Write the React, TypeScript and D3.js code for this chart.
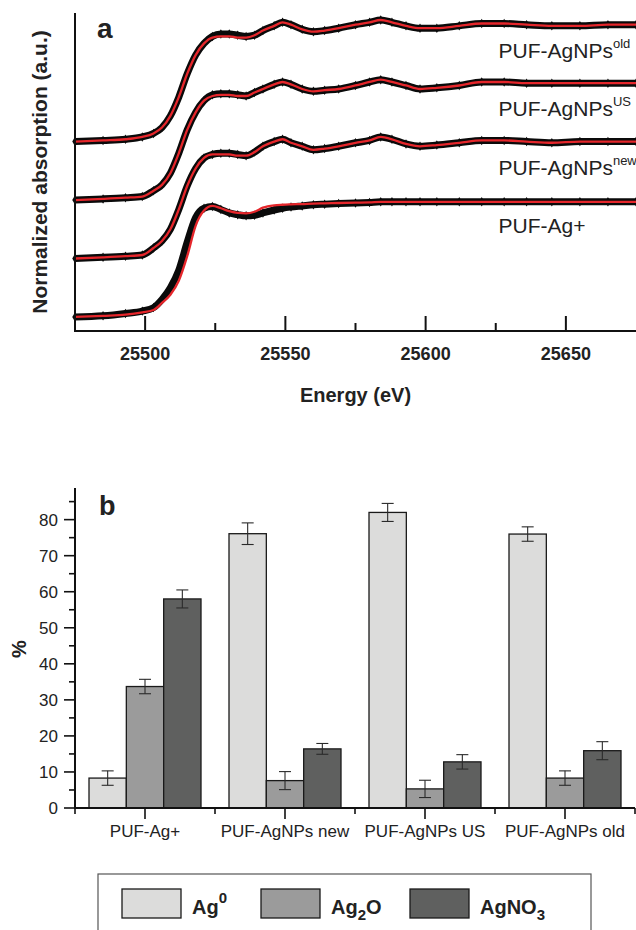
import React, { useEffect, useRef } from 'react';
import * as d3 from 'd3';

const W = 636;
const H = 930;
const FONT = '"Liberation Sans", Arial, Helvetica, sans-serif';

// ---- panel a: normalized XANES spectra (eV vs mu) ----
const energy = [
  25475, 25485, 25493, 25499, 25503, 25506, 25509, 25512, 25515, 25518,
  25521, 25524, 25527, 25530, 25533, 25536, 25539, 25542, 25546, 25549,
  25552, 25556, 25560, 25564, 25569, 25575, 25580, 25584, 25588, 25593,
  25598, 25604, 25612, 25620, 25628, 25636, 25645, 25655, 25665, 25675,
];

const agPlusData = [
  0.0, 0.01, 0.03, 0.05, 0.08, 0.15, 0.25, 0.4, 0.64, 0.85,
  0.93, 0.945, 0.92, 0.89, 0.875, 0.865, 0.87, 0.89, 0.915, 0.93,
  0.94, 0.95, 0.96, 0.965, 0.97, 0.975, 0.98, 0.985, 0.985, 0.985,
  0.985, 0.985, 0.985, 0.985, 0.985, 0.985, 0.985, 0.985, 0.985, 0.985,
];
const agPlusFit = [
  0.0, 0.01, 0.02, 0.04, 0.06, 0.12, 0.19, 0.31, 0.52, 0.78,
  0.91, 0.95, 0.93, 0.905, 0.89, 0.886, 0.9, 0.935, 0.955, 0.96,
  0.963, 0.966, 0.97, 0.972, 0.975, 0.978, 0.98, 0.985, 0.985, 0.985,
  0.985, 0.985, 0.985, 0.985, 0.985, 0.985, 0.985, 0.985, 0.985, 0.985,
];
const newData = [
  0.0, 0.01, 0.02, 0.03, 0.09, 0.15, 0.25, 0.42, 0.62, 0.77,
  0.86, 0.89, 0.9, 0.9, 0.89, 0.88, 0.91, 0.96, 1.0, 1.02,
  0.99, 0.96, 0.93, 0.94, 0.96, 0.99, 1.01, 1.04, 1.02, 0.98,
  0.96, 0.97, 0.99, 1.01, 1.01, 1.0, 0.99, 1.0, 1.0, 1.0,
];
const newFit = [
  0.0, 0.01, 0.02, 0.03, 0.09, 0.15, 0.25, 0.42, 0.62, 0.77,
  0.86, 0.89, 0.89, 0.89, 0.88, 0.88, 0.91, 0.96, 1.0, 1.02,
  0.99, 0.96, 0.93, 0.94, 0.96, 0.99, 1.01, 1.04, 1.02, 0.98,
  0.96, 0.97, 0.99, 1.01, 1.01, 1.0, 0.99, 1.0, 1.0, 1.0,
];
const usData = [
  0.0, 0.01, 0.02, 0.03, 0.08, 0.13, 0.23, 0.4, 0.6, 0.75,
  0.85, 0.9, 0.91, 0.91, 0.9, 0.89, 0.92, 0.95, 0.99, 1.01,
  0.99, 0.95, 0.93, 0.94, 0.95, 0.98, 1.01, 1.03, 1.01, 0.98,
  0.95, 0.96, 0.98, 1.01, 1.01, 1.0, 1.0, 1.0, 1.0, 1.0,
];
const usFit = [
  0.0, 0.01, 0.02, 0.03, 0.08, 0.13, 0.23, 0.4, 0.6, 0.75,
  0.85, 0.89, 0.9, 0.9, 0.89, 0.89, 0.92, 0.95, 0.99, 1.01,
  0.99, 0.95, 0.93, 0.94, 0.95, 0.98, 1.01, 1.03, 1.01, 0.98,
  0.95, 0.96, 0.98, 1.01, 1.01, 1.0, 1.0, 1.0, 1.0, 1.0,
];
const oldData = [
  0.0, 0.01, 0.02, 0.04, 0.07, 0.12, 0.22, 0.38, 0.58, 0.74,
  0.84, 0.9, 0.92, 0.92, 0.91, 0.9, 0.91, 0.95, 0.99, 1.02,
  1.0, 0.96, 0.94, 0.95, 0.97, 1.0, 1.02, 1.04, 1.02, 0.99,
  0.97, 0.97, 0.99, 1.01, 1.01, 1.0, 0.99, 0.99, 1.0, 1.0,
];
const oldFit = [
  0.0, 0.01, 0.02, 0.04, 0.07, 0.12, 0.22, 0.38, 0.58, 0.74,
  0.84, 0.89, 0.9, 0.9, 0.89, 0.89, 0.91, 0.95, 0.99, 1.02,
  1.0, 0.96, 0.94, 0.95, 0.97, 1.0, 1.02, 1.04, 1.02, 0.99,
  0.97, 0.97, 0.99, 1.01, 1.01, 1.0, 0.99, 0.99, 1.0, 1.0,
];

const spectraNames = ['PUF-Ag+', 'PUF-AgNPs', 'PUF-AgNPs', 'PUF-AgNPs'];
const spectraSups = ['', 'new', 'US', 'old'];
const spectraOffsets = [0, 0.5, 1.0, 1.5];
const spectraData = [agPlusData, newData, usData, oldData];
const spectraFit = [agPlusFit, newFit, usFit, oldFit];
const energyTicks = [25500, 25550, 25600, 25650];

// ---- panel b: speciation (%) ----
const categories = ['PUF-Ag+', 'PUF-AgNPs new', 'PUF-AgNPs US', 'PUF-AgNPs old'];
const species = ['Ag0', 'Ag2O', 'AgNO3'];
const ag0 = [8.3, 76.1, 82.0, 76.0];
const ag0Err = [2.0, 3.0, 2.5, 2.0];
const ag2o = [33.7, 7.6, 5.3, 8.3];
const ag2oErr = [2.0, 2.5, 2.4, 2.0];
const agno3 = [58.0, 16.4, 12.8, 15.9];
const agno3Err = [2.5, 1.5, 2.0, 2.5];
const percentTicks = [0, 10, 20, 30, 40, 50, 60, 70, 80];

const barColors = ['#dcdcdb', '#9b9b9b', '#5f605f'];

const App: React.FC = () => {
  const svgRef = useRef<SVGSVGElement>(null);

  useEffect(() => {
    if (!svgRef.current) return;
    const svg = d3.select(svgRef.current);
    svg.selectAll('*').remove();

    // ================= panel a =================
    const xA = d3.scaleLinear().domain([25475, 25675]).range([75, 636]);
    const yA = d3.scaleLinear().domain([-0.12, 2.6]).range([331, 13]);
    const ga = svg.append('g');

    const line = d3
      .line<[number, number]>()
      .x((d) => xA(d[0]))
      .y((d) => yA(d[1]))
      .curve(d3.curveMonotoneX);

    // measured points: thick black band of dense diamonds
    spectraData.forEach((vals, i) => {
      const off = spectraOffsets[i];
      const pts: [number, number][] = energy.map((e, j) => [e, vals[j] + off]);
      ga.append('path')
        .attr('d', line(pts))
        .attr('fill', 'none')
        .attr('stroke', '#0a0a0a')
        .attr('stroke-width', 7)
        .attr('stroke-linejoin', 'round');
      ga.selectAll(null)
        .data(pts)
        .enter()
        .append('path')
        .attr('d', d3.symbol(d3.symbolDiamond, 26)())
        .attr('transform', (d) => `translate(${xA(d[0])},${yA(d[1])})`)
        .attr('fill', '#0a0a0a');
    });

    // fits in red
    spectraFit.forEach((vals, i) => {
      const off = spectraOffsets[i];
      const pts: [number, number][] = energy.map((e, j) => [e, vals[j] + off]);
      ga.append('path')
        .attr('d', line(pts))
        .attr('fill', 'none')
        .attr('stroke', '#e5262b')
        .attr('stroke-width', 2.3);
    });

    // axes
    ga.append('line')
      .attr('x1', 75).attr('x2', 75)
      .attr('y1', yA.range()[1]).attr('y2', yA.range()[0] + 1)
      .attr('stroke', '#111').attr('stroke-width', 2);
    ga.append('line')
      .attr('x1', 74).attr('x2', 636)
      .attr('y1', 331).attr('y2', 331)
      .attr('stroke', '#111').attr('stroke-width', 2);

    const minorE = d3.range(25525, 25675, 50);
    ga.selectAll(null)
      .data(energyTicks)
      .enter()
      .append('line')
      .attr('x1', (d) => xA(d)).attr('x2', (d) => xA(d))
      .attr('y1', 331).attr('y2', 316)
      .attr('stroke', '#111').attr('stroke-width', 2);
    ga.selectAll(null)
      .data(minorE)
      .enter()
      .append('line')
      .attr('x1', (d) => xA(d)).attr('x2', (d) => xA(d))
      .attr('y1', 331).attr('y2', 323)
      .attr('stroke', '#111').attr('stroke-width', 2);

    ga.selectAll(null)
      .data(energyTicks)
      .enter()
      .append('text')
      .attr('x', (d) => xA(d))
      .attr('y', 360)
      .attr('text-anchor', 'middle')
      .attr('font-family', FONT)
      .attr('font-weight', 'bold')
      .attr('font-size', 18)
      .attr('fill', '#222')
      .text((d) => d);

    ga.append('text')
      .attr('x', xA(25575))
      .attr('y', 402)
      .attr('text-anchor', 'middle')
      .attr('font-family', FONT)
      .attr('font-weight', 'bold')
      .attr('font-size', 20)
      .attr('fill', '#222')
      .text('Energy (eV)');

    ga.append('text')
      .attr('transform', 'translate(47,172) rotate(-90)')
      .attr('text-anchor', 'middle')
      .attr('font-family', FONT)
      .attr('font-weight', 'bold')
      .attr('font-size', 21)
      .attr('fill', '#222')
      .text('Normalized absorption (a.u.)');

    ga.append('text')
      .attr('x', 97).attr('y', 38)
      .attr('font-family', FONT)
      .attr('font-weight', 'bold')
      .attr('font-size', 28)
      .attr('fill', '#222')
      .text('a');

    spectraNames.forEach((name, i) => {
      const t = ga.append('text')
        .attr('x', xA(25626))
        .attr('y', yA(spectraOffsets[i]) - 84)
        .attr('font-family', FONT)
        .attr('font-size', 21)
        .attr('fill', '#222');
      t.append('tspan').text(name);
      if (spectraSups[i]) {
        t.append('tspan')
          .attr('dy', -10)
          .attr('font-size', 13)
          .text(spectraSups[i]);
      }
    });

    // ================= panel b =================
    const gb = svg.append('g');
    const xB = d3.scaleBand<string>().domain(categories).range([75, 635]).paddingInner(0.2).paddingOuter(0.1);
    const xSub = d3.scaleBand<string>().domain(species).range([0, xB.bandwidth()]).padding(0);
    const yB = d3.scaleLinear().domain([0, 88.5]).range([808, 489]);

    const values = [ag0, ag2o, agno3];
    const errors = [ag0Err, ag2oErr, agno3Err];

    categories.forEach((cat, ci) => {
      species.forEach((sp, si) => {
        const v = values[si][ci];
        const e = errors[si][ci];
        const x0 = (xB(cat) as number) + (xSub(sp) as number);
        const bw = xSub.bandwidth();
        gb.append('rect')
          .attr('x', x0)
          .attr('y', yB(v))
          .attr('width', bw)
          .attr('height', yB(0) - yB(v))
          .attr('fill', barColors[si])
          .attr('stroke', '#1a1a1a')
          .attr('stroke-width', 1.3);
        const cx = x0 + bw / 2;
        const eg = gb.append('g').attr('stroke', '#2a2a2a').attr('stroke-width', 1.1);
        eg.append('line').attr('x1', cx).attr('x2', cx).attr('y1', yB(v + e)).attr('y2', yB(v - e));
        eg.append('line').attr('x1', cx - 6).attr('x2', cx + 6).attr('y1', yB(v + e)).attr('y2', yB(v + e));
        eg.append('line').attr('x1', cx - 6).attr('x2', cx + 6).attr('y1', yB(v - e)).attr('y2', yB(v - e));
      });
    });

    gb.append('line')
      .attr('x1', 75).attr('x2', 75)
      .attr('y1', 488).attr('y2', 809)
      .attr('stroke', '#111').attr('stroke-width', 2);
    gb.append('line')
      .attr('x1', 74).attr('x2', 635)
      .attr('y1', 808).attr('y2', 808)
      .attr('stroke', '#111').attr('stroke-width', 2);

    gb.selectAll(null)
      .data(percentTicks)
      .enter()
      .append('line')
      .attr('x1', 64).attr('x2', 75)
      .attr('y1', (d) => yB(d)).attr('y2', (d) => yB(d))
      .attr('stroke', '#111').attr('stroke-width', 1.6);
    gb.selectAll(null)
      .data(d3.range(5, 90, 10))
      .enter()
      .append('line')
      .attr('x1', 69).attr('x2', 75)
      .attr('y1', (d) => yB(d)).attr('y2', (d) => yB(d))
      .attr('stroke', '#111').attr('stroke-width', 1.6);
    gb.selectAll(null)
      .data(percentTicks)
      .enter()
      .append('text')
      .attr('x', 58)
      .attr('y', (d) => yB(d))
      .attr('dy', '0.36em')
      .attr('text-anchor', 'end')
      .attr('font-family', FONT)
      .attr('font-size', 17)
      .attr('fill', '#222')
      .text((d) => d);

    // category ticks (centre) and boundary ticks
    gb.selectAll(null)
      .data(categories)
      .enter()
      .append('line')
      .attr('x1', (d) => (xB(d) as number) + xB.bandwidth() / 2)
      .attr('x2', (d) => (xB(d) as number) + xB.bandwidth() / 2)
      .attr('y1', 808).attr('y2', 819)
      .attr('stroke', '#111').attr('stroke-width', 1.6);
    const bounds = [75, ...categories.map((d) => (xB(d) as number) + xB.bandwidth() / 2 + xB.step() / 2)];
    gb.selectAll(null)
      .data(bounds)
      .enter()
      .append('line')
      .attr('x1', (d) => d).attr('x2', (d) => d)
      .attr('y1', 808).attr('y2', 814)
      .attr('stroke', '#111').attr('stroke-width', 1.6);

    gb.selectAll(null)
      .data(categories)
      .enter()
      .append('text')
      .attr('x', (d) => (xB(d) as number) + xB.bandwidth() / 2)
      .attr('y', 837)
      .attr('text-anchor', 'middle')
      .attr('font-family', FONT)
      .attr('font-size', 17)
      .attr('fill', '#222')
      .text((d) => d);

    gb.append('text')
      .attr('transform', 'translate(26,649) rotate(-90)')
      .attr('text-anchor', 'middle')
      .attr('font-family', FONT)
      .attr('font-weight', 'bold')
      .attr('font-size', 20)
      .attr('fill', '#222')
      .text('%');

    gb.append('text')
      .attr('x', 99).attr('y', 515)
      .attr('font-family', FONT)
      .attr('font-weight', 'bold')
      .attr('font-size', 27)
      .attr('fill', '#222')
      .text('b');

    // ================= legend =================
    const gl = svg.append('g');
    gl.append('rect')
      .attr('x', 98).attr('y', 874)
      .attr('width', 493).attr('height', 70)
      .attr('fill', '#fff')
      .attr('stroke', '#555').attr('stroke-width', 1.2);

    const legendX = [122, 261, 410];
    species.forEach((sp, i) => {
      gl.append('rect')
        .attr('x', legendX[i]).attr('y', 889)
        .attr('width', 59).attr('height', 29)
        .attr('fill', barColors[i])
        .attr('stroke', '#1a1a1a').attr('stroke-width', 1.3);
      const t = gl.append('text')
        .attr('x', legendX[i] + 70)
        .attr('y', 914)
        .attr('font-family', FONT)
        .attr('font-weight', 'bold')
        .attr('font-size', 20)
        .attr('fill', '#222');
      if (sp === 'Ag0') {
        t.append('tspan').text('Ag');
        t.append('tspan').attr('dy', -11).attr('font-size', 15).text('0');
      } else if (sp === 'Ag2O') {
        t.append('tspan').text('Ag');
        t.append('tspan').attr('dy', 6).attr('font-size', 15).text('2');
        t.append('tspan').attr('dy', -6).text('O');
      } else {
        t.append('tspan').text('AgNO');
        t.append('tspan').attr('dy', 6).attr('font-size', 15).text('3');
      }
    });
  }, []);

  return (
    <svg
      ref={svgRef}
      width={W}
      height={H}
      style={{ position: 'absolute', left: 0, top: 0, background: '#fff', display: 'block' }}
    />
  );
};

export default App;
